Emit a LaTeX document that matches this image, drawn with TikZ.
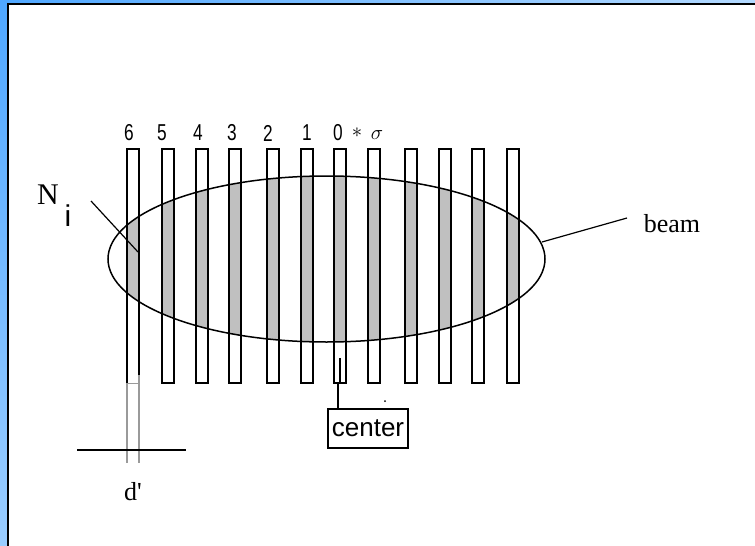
\documentclass[tikz,border=0pt]{standalone}
\usepackage{fontspec}
\setmainfont{Liberation Serif}
\setsansfont{Liberation Sans}
\usetikzlibrary{shapes.geometric}
\definecolor{blueL}{HTML}{4FA7FF}
\definecolor{blueR}{HTML}{B3D9FF}
\definecolor{blueB}{HTML}{9ACDFF}
\definecolor{stripgray}{HTML}{C0C0C0}
\definecolor{dgray}{HTML}{9A9A9A}
\tikzset{
  stripbox/.style={rectangle, draw=black, line width=1.6pt, minimum width=12pt, minimum height=234pt, inner sep=0pt, outer sep=0pt},
  bareStrip/.style={rectangle, draw=none, minimum width=12pt, minimum height=234pt, inner sep=0pt, outer sep=0pt},
  beamring/.style={ellipse, draw=black, line width=1.5pt, minimum width=437pt, minimum height=166pt, inner sep=0pt, outer sep=0pt},
  leader/.style={draw=black, line width=1.2pt},
  numlab/.style={inner sep=0pt, font=\sffamily\fontsize{23}{23}\selectfont},
  serlab/.style={inner sep=0pt, font=\rmfamily\fontsize{26}{26}\selectfont},
  centerbox/.style={rectangle, draw=black, line width=1.4pt, minimum width=80pt, minimum height=39pt, inner sep=0pt, font=\sffamily\fontsize{26}{26}\selectfont}
}
\begin{document}
\begin{tikzpicture}[x=1pt,y=-1pt]
\useasboundingbox (0,0) rectangle (755,546);
% frame
\shade[left color=blueL, right color=blueR] (0,0) rectangle (755,5);
\shade[top color=blueL, bottom color=blueB] (0,0) rectangle (8,546);
\fill[white] (8,5) rectangle (755,546);
\draw[line width=2pt] (8.2,546) -- (8.2,4.3) -- (755,4.3);

% gray parts of strips inside the beam
\begin{scope}
  \clip (326.5,259) ellipse [x radius=218.5, y radius=83];
  \foreach \x in {127,162,196,229,267,301,334,368,405,439,472,507}
    \fill[stripgray] (\x,149) rectangle (\x+12,383);
\end{scope}

% strips
\node[bareStrip] (s1) at (133,266) {};
\foreach \x [count=\i from 2] in {162,196,229,267,301,334,368,405,439,472,507}
  \node[stripbox] (s\i) at (\x+6,266) {};

% special strip 6 with d' extension
\draw[line width=1.6pt] (s1.south west) -- (s1.north west) -- (s1.north east) -- ([yshift=8pt]s1.south east);
\coordinate (dL) at (127,463);
\coordinate (dR) at (139,463);
\draw[dgray, line width=1.3pt] (s1.south west) -- (dL);
\draw[dgray, line width=1.3pt] ([yshift=8pt]s1.south east) -- (dR);
\draw[dgray, line width=0.7pt] (s1.south west) -- (s1.south east);
\coordinate (hA) at (77,450);
\coordinate (hB) at (186,450);
\draw[line width=1.4pt] (hA) -- (hB);
\node[serlab] (dlab) at (133,492) {d\textquotesingle};

% beam ellipse
\node[beamring] (beam) at (326.5,259) {};

% numbers
\node[numlab] (n6) at (129,133) {\scalebox{0.75}[1]{6}};
\node[numlab] (n5) at (162,133) {\scalebox{0.75}[1]{5}};
\node[numlab] (n4) at (198,133) {\scalebox{0.75}[1]{4}};
\node[numlab] (n3) at (232,133) {\scalebox{0.75}[1]{3}};
\node[numlab] (n2) at (268,133) {\scalebox{0.75}[1]{2}};
\node[numlab] (n1) at (307,133) {\scalebox{0.75}[1]{1}};
\node[numlab] (n0) at (338,133) {\scalebox{0.75}[1]{0}};
\node[inner sep=0pt, font=\fontsize{22}{22}\selectfont] (nast) at (357,133) {$\ast$};
\node[inner sep=0pt, font=\fontsize{22}{22}\selectfont] (nsig) at (377,135) {$\sigma$};

% N_i label
\node[inner sep=0pt, font=\rmfamily\fontsize{30}{30}\selectfont] (Nlab) at (48,195) {N};
\node[inner sep=0pt, font=\sffamily\fontsize{30}{30}\selectfont] (ilab) at (68,216) {i};
\coordinate (Na) at (91,201);
\coordinate (Nb) at (138,252);
\draw[leader] (Na) -- (Nb);

% beam label
\node[serlab] (beamlab) at (672,224) {beam};
\coordinate (bA) at (542,242);
\coordinate (bB) at (627,218);
\draw[leader] (bA) -- (bB);

% center
\node[centerbox] (center) at (368,428.5) {center};
\draw[line width=1.2pt] (340,358) -- (s7.south);
\draw[line width=1.4pt] ([xshift=-2pt]s7.south) -- ([xshift=-2pt]s7.south |- center.north);
\fill (385,401) circle (1pt);
\end{tikzpicture}
\end{document}
